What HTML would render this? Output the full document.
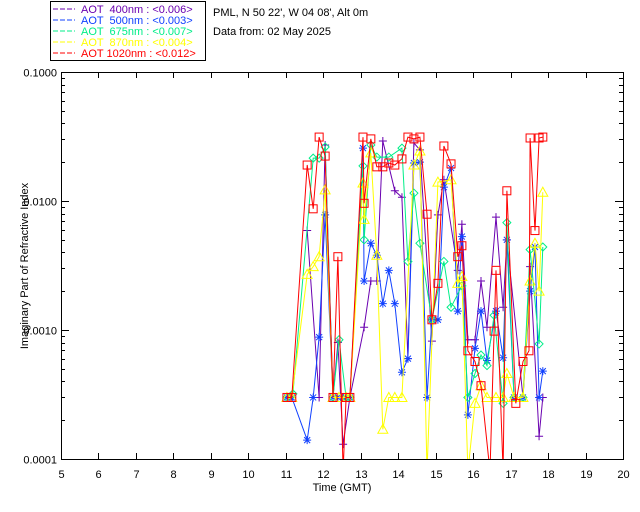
<!DOCTYPE html>
<html><head><meta charset="utf-8"><style>
html,body{margin:0;padding:0;background:#fff;}
svg{display:block;font-family:"Liberation Sans",sans-serif;}
</style></head><body>
<svg id="chart" width="640" height="512" viewBox="0 0 640 512" xmlns="http://www.w3.org/2000/svg">
<rect x="0" y="0" width="640" height="512" fill="#fff"/>
<g>
<rect x="50.5" y="1.5" width="155" height="59" fill="#fff" stroke="#000"/>
<g font-size="11">
<line x1="53" y1="9" x2="75" y2="9" stroke="#6a00b0" stroke-dasharray="5,2"/>
<text x="81" y="13" fill="#6a00b0" xml:space="preserve">AOT  400nm : &lt;0.006&gt;</text>
<line x1="53" y1="20" x2="75" y2="20" stroke="#1040ff" stroke-dasharray="5,2"/>
<text x="81" y="24" fill="#1040ff" xml:space="preserve">AOT  500nm : &lt;0.003&gt;</text>
<line x1="53" y1="31" x2="75" y2="31" stroke="#00ee88" stroke-dasharray="5,2"/>
<text x="81" y="35" fill="#00ee88" xml:space="preserve">AOT  675nm : &lt;0.007&gt;</text>
<line x1="53" y1="42" x2="75" y2="42" stroke="#ffff00" stroke-dasharray="5,2"/>
<text x="81" y="46" fill="#ffff00" xml:space="preserve">AOT  870nm : &lt;0.004&gt;</text>
<line x1="53" y1="53" x2="75" y2="53" stroke="#ff0000" stroke-dasharray="5,2"/>
<text x="81" y="57" fill="#ff0000" xml:space="preserve">AOT 1020nm : &lt;0.012&gt;</text>
</g></g>
<text x="213" y="16" font-size="11" fill="#000">PML, N 50 22', W 04 08', Alt 0m</text>
<text x="213" y="35" font-size="11" fill="#000">Data from: 02 May 2025</text>
<rect x="61.5" y="72.5" width="562" height="387" fill="none" stroke="#000"/>
<g id="axes"></g>
<g id="series"></g>
<text x="342" y="491" font-size="11" text-anchor="middle">Time (GMT)</text>
<text transform="translate(28,266) rotate(-90)" font-size="11" text-anchor="middle">Imaginary Part of Refractive Index</text>
</svg>
<script>
const xTicks=[5,6,7,8,9,10,11,12,13,14,15,16,17,18,19,20];
const yTickVals=[0.1,0.01,0.001,0.0001];
const yTickLabels=["0.1000","0.0100","0.0010","0.0001"];

const t400=[11.57,11.89,12.05,12.26,12.39,12.53,12.71,13.09,13.27,13.43,13.59,13.91,14.10,14.26,14.42,14.58,14.90,15.06,15.22,15.59,15.70,15.86,16.05,16.21,16.37,16.61,16.80,16.90,17.33,17.52,17.76,17.86];
const v400=[0.0059,0.0003,0.0272,0.0003,0.0008,0.00013,0.0003,0.00105,0.0024,0.0024,0.0292,0.012,0.0107,0.0006,0.0282,0.0249,0.00082,0.0078,0.0146,0.0029,0.0066,0.00084,0.00084,0.0024,0.00105,0.0075,0.0015,0.005,0.0003,0.0031,0.00015,0.0003];

const t500=[11.03,11.16,11.57,11.73,11.89,12.05,12.26,12.39,12.53,12.61,12.71,13.06,13.09,13.27,13.43,13.59,13.75,13.91,14.10,14.26,14.42,14.58,14.77,14.90,15.06,15.22,15.41,15.59,15.70,15.86,16.05,16.21,16.37,16.61,16.80,16.90,17.09,17.33,17.52,17.65,17.76,17.86];
const v500=[0.0003,0.0003,0.00014,0.0003,0.00088,0.0078,0.0003,0.0003,0.0003,0.0003,0.0003,0.0257,0.0024,0.0047,0.0038,0.0016,0.0029,0.0016,0.00047,0.0006,0.0197,0.02,0.0003,0.0012,0.0012,0.0128,0.018,0.0014,0.0053,0.00022,0.00072,0.0014,0.00058,0.0014,0.00061,0.005,0.0003,0.0003,0.002,0.0044,0.0003,0.00048];

const t675=[11.03,11.19,11.73,11.89,12.05,12.26,12.42,12.61,12.71,13.06,13.09,13.27,13.43,13.75,14.10,14.26,14.42,14.58,14.90,15.22,15.41,15.70,15.86,16.05,16.21,16.37,16.56,16.80,16.90,17.09,17.33,17.52,17.76,17.86];
const v675=[0.0003,0.00032,0.0215,0.0215,0.0262,0.0003,0.00084,0.0003,0.0003,0.0187,0.005,0.0272,0.0219,0.0219,0.0257,0.0034,0.0115,0.0047,0.0012,0.0034,0.0015,0.0022,0.0003,0.00046,0.00064,0.00053,0.0013,0.00027,0.0068,0.0003,0.0003,0.0042,0.00078,0.0044];

const t870=[11.03,11.16,11.57,11.73,11.89,12.05,12.26,12.42,12.61,12.71,13.06,13.09,13.27,13.43,13.59,13.75,13.91,14.10,14.42,14.58,14.77,15.06,15.41,15.59,15.70,15.86,16.05,16.21,16.37,16.61,16.80,16.90,17.09,17.33,17.52,17.65,17.76,17.86];
const v870=[0.0003,0.0003,0.0027,0.0031,0.0037,0.0122,0.0003,0.0003,0.0003,0.0003,0.0138,0.0072,0.0236,0.0038,0.00017,0.0003,0.0003,0.0003,0.019,0.0244,0.00008,0.014,0.0146,0.0023,0.0026,0.00008,0.00027,0.00037,0.0003,0.0003,0.0003,0.00046,0.0003,0.0003,0.0024,0.0047,0.002,0.0117];

const t1020=[11.03,11.16,11.57,11.73,11.89,12.05,12.26,12.39,12.53,12.61,12.71,13.06,13.09,13.27,13.43,13.59,13.75,13.91,14.10,14.26,14.42,14.58,14.77,14.90,15.06,15.22,15.41,15.59,15.70,15.86,16.05,16.21,16.45,16.56,16.61,16.80,16.90,17.14,17.33,17.49,17.52,17.65,17.76,17.86];
const v1020=[0.0003,0.0003,0.019,0.0087,0.0313,0.0223,0.0003,0.0037,0.00008,0.0003,0.0003,0.0313,0.0096,0.0303,0.0184,0.0184,0.0197,0.019,0.0212,0.0313,0.0303,0.0313,0.0079,0.0012,0.0023,0.0267,0.0194,0.0037,0.0045,0.00069,0.00057,0.00037,0.00008,0.00098,0.0029,0.00008,0.012,0.00027,0.00057,0.00069,0.0308,0.0059,0.0308,0.0313];

const X0=61,X1=623,Y0=72,Y1=459;
const xs=h=>X0+(h-5)/15*(X1-X0);
const ys=v=>Y0+(-1-Math.log10(v))/3*(Y1-Y0);
const NS="http://www.w3.org/2000/svg";
function mk(tag,attrs,parent){const e=document.createElementNS(NS,tag);for(const k in attrs)e.setAttribute(k,attrs[k]);parent.appendChild(e);return e;}
const axes=document.getElementById('axes');
xTicks.forEach(h=>{
  const x=Math.round(xs(h))+0.5;
  const tk=mk('line',{x1:x,y1:Y1,x2:x,y2:Y1-6,stroke:'#000'},axes);
  
  
  const t2=mk('line',{x1:x,y1:Y0,x2:x,y2:Y0+6,stroke:'#000'},axes);
  
  
  const lb=mk('text',{x:x,y:478,'font-size':11,'text-anchor':'middle'},axes);
  lb.textContent=h;
  
  
});
yTickVals.forEach((v,i)=>{
  const y=Math.round(ys(v))+0.5;
  const tk=mk('line',{x1:X0,y1:y,x2:X0+8,y2:y,stroke:'#000'},axes);
  
  
  mk('line',{x1:X1,y1:y,x2:X1-8,y2:y,stroke:'#000'},axes);
  const lb=mk('text',{x:57,y:y+4,'font-size':11,'text-anchor':'end'},axes);
  lb.textContent=yTickLabels[i];
  
  
  if(i<yTickVals.length-1){
    for(let m=2;m<=9;m++){
      const yy=Math.round(ys(v/10*m))+0.5;
      mk('line',{x1:X0,y1:yy,x2:X0+4,y2:yy,stroke:'#000'},axes);
      mk('line',{x1:X1,y1:yy,x2:X1-4,y2:yy,stroke:'#000'},axes);
    }
  }
});
const sg=document.getElementById('series');
const defs=mk('defs',{},sg);
const cp=mk('clipPath',{id:'clip'},defs);
mk('rect',{x:X0,y:Y0,width:X1-X0,height:Y1-Y0},cp);
function marker(g,type,x,y,c){
  let e;
  if(type==='plus'){e=mk('path',{d:`M${x-4} ${y}H${x+4}M${x} ${y-4}V${y+4}`,stroke:c,fill:'none'},g);}
  else if(type==='star'){e=mk('path',{d:`M${x-4} ${y}H${x+4}M${x} ${y-4}V${y+4}M${x-3} ${y-3}L${x+3} ${y+3}M${x-3} ${y+3}L${x+3} ${y-3}`,stroke:c,fill:'none'},g);}
  else if(type==='diamond'){e=mk('path',{d:`M${x} ${y-4}L${x+4} ${y}L${x} ${y+4}L${x-4} ${y}Z`,stroke:c,fill:'none'},g);}
  else if(type==='tri'){e=mk('path',{d:`M${x} ${y-5}L${x+5} ${y+4}L${x-5} ${y+4}Z`,stroke:c,fill:'none'},g);}
  else {e=mk('rect',{x:x-4,y:y-4,width:8,height:8,stroke:c,fill:'none'},g);}
  return e;
}
const series=[
 {name:'series-400nm',t:t400,v:v400,c:'#6a00b0',m:'plus'},
 {name:'series-500nm',t:t500,v:v500,c:'#1040ff',m:'star'},
 {name:'series-675nm',t:t675,v:v675,c:'#00ee88',m:'diamond'},
 {name:'series-870nm',t:t870,v:v870,c:'#ffff00',m:'tri'},
 {name:'series-1020nm',t:t1020,v:v1020,c:'#ff0000',m:'square'}
];
series.forEach(s=>{
  const g=mk('g',{'clip-path':'url(#clip)'},sg);
  
  
  const pts=s.t.map((h,i)=>xs(h).toFixed(1)+','+ys(s.v[i]).toFixed(1)).join(' ');
  const pl=mk('polyline',{points:pts,fill:'none',stroke:s.c,'stroke-width':1},g);
  
  
  s.t.forEach((h,i)=>{
    const mm=marker(g,s.m,xs(h),ys(s.v[i]),s.c);
    
    
  });
});
</script>
</body></html>
